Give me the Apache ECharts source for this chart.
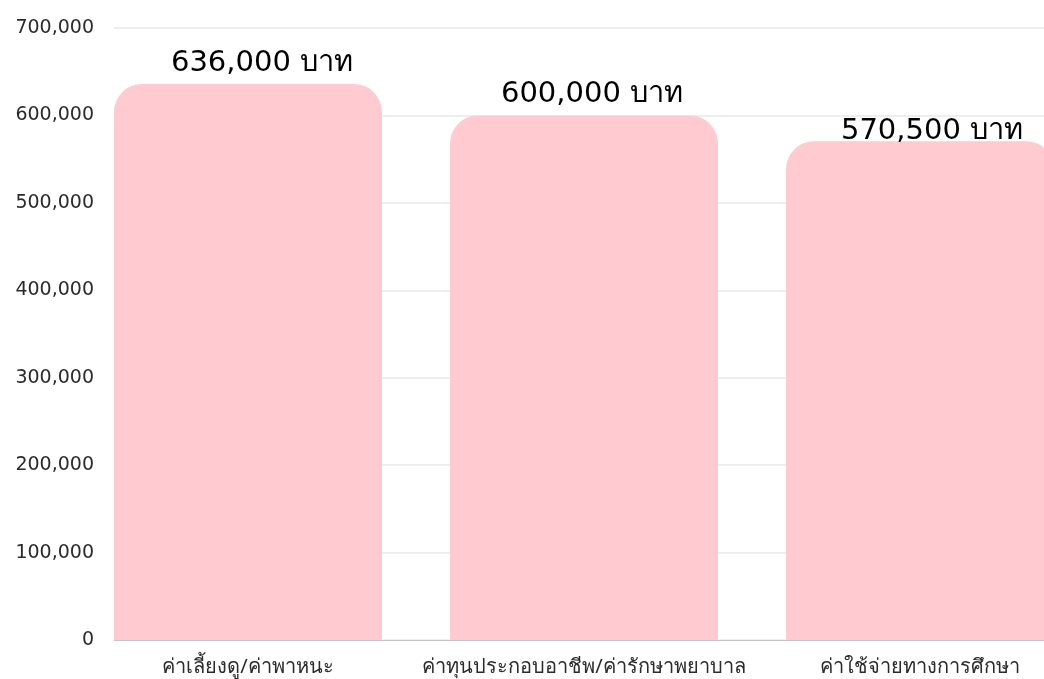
<!DOCTYPE html>
<html>
<head>
<meta charset="utf-8">
<script src="https://cdn.jsdelivr.net/npm/echarts@6/dist/echarts.min.js"></script>
<style>
  html, body { margin: 0; padding: 0; background: #fff; overflow: hidden; }
  /* the plot runs past the right edge of the window, as in the reference */
  #chart { width: 1122px; height: 679px; }
</style>
</head>
<body>
<div id="chart"></div>
<script>
const categories = ['ค่าเลี้ยงดู/ค่าพาหนะ', 'ค่าทุนประกอบอาชีพ/ค่ารักษาพยาบาล', 'ค่าใช้จ่ายทางการศึกษา']
const amounts = [636000, 600000, 570500]
const yTicks = [0, 100000, 200000, 300000, 400000, 500000, 600000, 700000]
const unit = 'บาท'

const numFont = '"DejaVu Sans", "Noto Sans", sans-serif'
const textFont = '"Noto Sans", "DejaVu Sans", sans-serif'
const fmt = v => Number(v).toLocaleString('en-US')

let chart = echarts.init(document.getElementById('chart'))
chart.setOption({
  animation: false,
  grid: { left: 114, right: 0, top: 28, bottom: 39, containLabel: false },
  xAxis: {
    type: 'category',
    data: categories,
    axisTick: { show: false },
    axisLine: { lineStyle: { color: '#c4c4c4', width: 1 } },
    axisLabel: {
      interval: 0,
      color: '#2b2b2b',
      fontSize: 20,
      fontFamily: textFont,
      margin: 17,
      padding: [0, 68, 0, 0] // centre under the bar, not the category
    }
  },
  yAxis: {
    type: 'value',
    min: yTicks[0],
    max: yTicks[yTicks.length - 1],
    interval: 100000,
    axisLine: { show: false },
    axisTick: { show: false },
    splitLine: { lineStyle: { color: '#e8e8e8', width: 1.5 } },
    axisLabel: {
      color: '#2b2b2b',
      fontSize: 19,
      fontFamily: numFont,
      margin: 20,
      formatter: v => fmt(v)
    }
  },
  series: [
    {
      type: 'bar',
      data: amounts.map((v, i) => ({
        value: v,
        label: { offset: [[14, -1], [8, -1], [12, 10]][i] }
      })),
      barWidth: 268,
      barGap: '0%',
      itemStyle: { color: '#ffcad0', borderRadius: [28, 28, 0, 0] },
      label: {
        show: true,
        position: 'top',
        color: '#000',
        fontSize: 29,
        fontFamily: numFont,
        formatter: p => fmt(p.value) + ' ' + unit
      }
    },
    {
      type: 'bar',
      data: amounts.map(() => 0),
      barWidth: 68,
      silent: true,
      itemStyle: { color: 'transparent' }
    }
  ]
})
</script>
</body>
</html>
